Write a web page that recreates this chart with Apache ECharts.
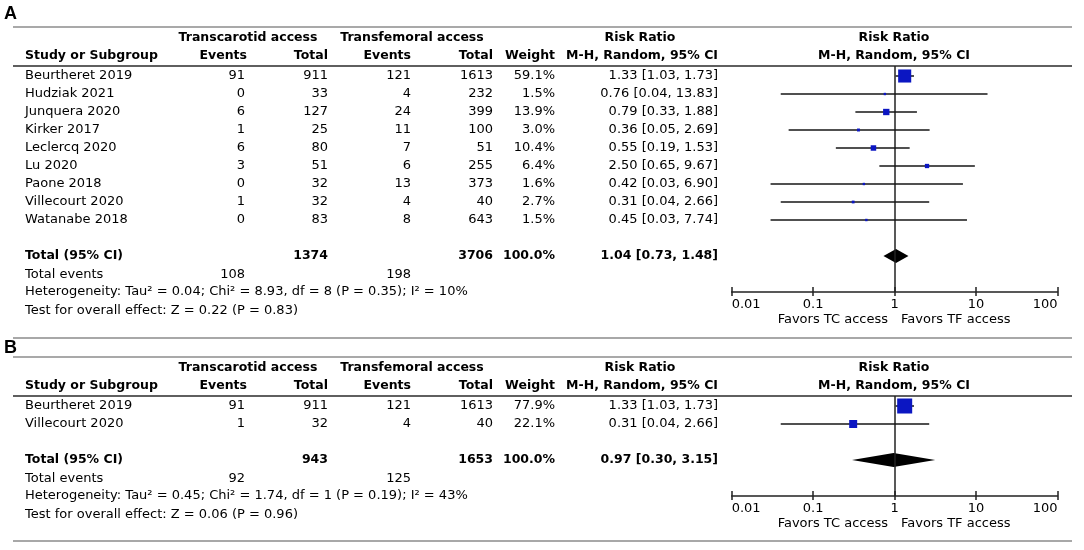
<!DOCTYPE html>
<html>
<head>
<meta charset="utf-8">
<script src="https://cdn.jsdelivr.net/npm/echarts@6/dist/echarts.min.js"></script>
<style>
html,body{margin:0;padding:0;background:#fff;}
#chart{width:1084px;height:550px;}
</style>
</head>
<body>
<div id="chart"></div>
<script>
// ---------------- DATA ----------------
const panelLabels = ['A', 'B'];
const groupHeaders = ['Transcarotid access', 'Transfemoral access', 'Risk Ratio', 'Risk Ratio'];
const colHeaders = ['Study or Subgroup', 'Events', 'Total', 'Events', 'Total', 'Weight', 'M-H, Random, 95% CI', 'M-H, Random, 95% CI'];
const tickLabels = ['0.01', '0.1', '1', '10', '100'];
const favorsLabels = ['Favors TC access', 'Favors TF access'];

// Panel A
const studiesA = ['Beurtheret 2019', 'Hudziak 2021', 'Junquera 2020', 'Kirker 2017', 'Leclercq 2020', 'Lu 2020', 'Paone 2018', 'Villecourt 2020', 'Watanabe 2018'];
const tcEventsA = [91, 0, 6, 1, 6, 3, 0, 1, 0];
const tcTotalA = [911, 33, 127, 25, 80, 51, 32, 32, 83];
const tfEventsA = [121, 4, 24, 11, 7, 6, 13, 4, 8];
const tfTotalA = [1613, 232, 399, 100, 51, 255, 373, 40, 643];
const weightA = [59.1, 1.5, 13.9, 3.0, 10.4, 6.4, 1.6, 2.7, 1.5];
const rrA = [1.33, 0.76, 0.79, 0.36, 0.55, 2.50, 0.42, 0.31, 0.45];
const loA = [1.03, 0.04, 0.33, 0.05, 0.19, 0.65, 0.03, 0.04, 0.03];
const hiA = [1.73, 13.83, 1.88, 2.69, 1.53, 9.67, 6.90, 2.66, 7.74];
const totalsA = [1374, 3706];          // TC total, TF total
const totalEventsA = [108, 198];
const pooledA = [1.04, 0.73, 1.48];    // RR, lower, upper
const hetA = 'Heterogeneity: Tau\u00b2 = 0.04; Chi\u00b2 = 8.93, df = 8 (P = 0.35); I\u00b2 = 10%';
const overallA = 'Test for overall effect: Z = 0.22 (P = 0.83)';

// Panel B
const studiesB = ['Beurtheret 2019', 'Villecourt 2020'];
const tcEventsB = [91, 1];
const tcTotalB = [911, 32];
const tfEventsB = [121, 4];
const tfTotalB = [1613, 40];
const weightB = [77.9, 22.1];
const rrB = [1.33, 0.31];
const loB = [1.03, 0.04];
const hiB = [1.73, 2.66];
const totalsB = [943, 1653];
const totalEventsB = [92, 125];
const pooledB = [0.97, 0.30, 3.15];
const hetB = 'Heterogeneity: Tau\u00b2 = 0.45; Chi\u00b2 = 1.74, df = 1 (P = 0.19); I\u00b2 = 43%';
const overallB = 'Test for overall effect: Z = 0.06 (P = 0.96)';

// ---------------- LAYOUT ----------------
const FONT = 'DejaVu Sans';
const FS = 13;
const ROW = 18;
const LINE_L = 13, LINE_R = 1072;
const PLOT_L = 731.7, PLOT_R = 1057.5;
const X = { study: 25, tcEv: 245, tcTot: 328, tfEv: 411, tfTot: 493, wt: 555, rr: 718, tcGroup: 248, tfGroup: 412, rrHead: 640, plot: 894 };

const graphics = [];
const grids = [], xAxes = [], yAxes = [], series = [];

function txt(text, x, y, align, bold, size) {
  graphics.push({
    type: 'text', silent: true, z: 10,
    style: {
      text: String(text), x: x, y: y,
      align: align || 'left', verticalAlign: 'middle',
      textAlign: align || 'left', textVerticalAlign: 'middle',
      fontFamily: FONT, fontSize: size || FS, fontWeight: bold ? 'bold' : 'normal', fill: '#000'
    }
  });
}
function hline(y, color, w) {
  graphics.push({ type: 'line', silent: true, shape: { x1: LINE_L, y1: y, x2: LINE_R, y2: y }, style: { stroke: color, lineWidth: w } });
}
const fmt2 = v => v.toFixed(2);
const ciText = (r, l, h) => fmt2(r) + ' [' + fmt2(l) + ', ' + fmt2(h) + ']';

function buildPanel(T, label, labelY, studies, tcEv, tcTot, tfEv, tfTot, wt, rr, lo, hi, totals, totEv, pooled, het, overall) {
  const n = studies.length;
  const under = T + 39;
  const first = under + 10;
  const rowY = i => first + ROW * i;
  const totalY = rowY(n + 1);
  const axisY = rowY(n + 3);

  graphics.push({ type: 'text', silent: true, style: { text: label, x: 4, y: labelY, align: 'left', verticalAlign: 'middle', textAlign: 'left', textVerticalAlign: 'middle', fontFamily: 'Liberation Sans', fontSize: 18, fontWeight: 'bold', fill: '#000' } });
  hline(T, '#8c8c8c', 1.5);
  hline(under, '#2a2a2a', 1.5);

  const h1 = T + 11, h2 = T + 29;
  txt(groupHeaders[0], X.tcGroup, h1, 'center', true, 12.5);
  txt(groupHeaders[1], X.tfGroup, h1, 'center', true, 12.5);
  txt(groupHeaders[2], X.rrHead, h1, 'center', true, 12.5);
  txt(groupHeaders[3], X.plot, h1, 'center', true, 12.5);
  txt(colHeaders[0], X.study, h2, 'left', true, 12.5);
  txt(colHeaders[1], X.tcEv + 2, h2, 'right', true, 12.5);
  txt(colHeaders[2], X.tcTot, h2, 'right', true, 12.5);
  txt(colHeaders[3], X.tfEv, h2, 'right', true, 12.5);
  txt(colHeaders[4], X.tfTot, h2, 'right', true, 12.5);
  txt(colHeaders[5], X.wt, h2, 'right', true, 12.5);
  txt(colHeaders[6], X.rr, h2, 'right', true, 12.5);
  txt(colHeaders[7], X.plot, h2, 'center', true, 12.5);

  for (let i = 0; i < n; i++) {
    const y = rowY(i);
    txt(studies[i], X.study, y, 'left');
    txt(tcEv[i], X.tcEv, y, 'right');
    txt(tcTot[i], X.tcTot, y, 'right');
    txt(tfEv[i], X.tfEv, y, 'right');
    txt(tfTot[i], X.tfTot, y, 'right');
    txt(wt[i].toFixed(1) + '%', X.wt, y, 'right');
    txt(ciText(rr[i], lo[i], hi[i]), X.rr, y, 'right');
  }
  txt('Total (95% CI)', X.study, totalY, 'left', true, 12.5);
  txt(totals[0], X.tcTot, totalY, 'right', true, 12.5);
  txt(totals[1], X.tfTot, totalY, 'right', true, 12.5);
  txt('100.0%', X.wt, totalY, 'right', true, 12.5);
  txt(ciText(pooled[0], pooled[1], pooled[2]), X.rr, totalY, 'right', true, 12.5);
  const evY = totalY + 19;
  txt('Total events', X.study, evY, 'left');
  txt(totEv[0], X.tcEv, evY, 'right');
  txt(totEv[1], X.tfEv, evY, 'right');
  txt(het, X.study, totalY + 36, 'left');
  txt(overall, X.study, totalY + 55, 'left');
  txt(favorsLabels[0], 888, axisY + 28, 'right');
  txt(favorsLabels[1], 901, axisY + 28, 'left');

  const yMin = -(first - under) / ROW;
  const yMax = n + 3;
  const gridBox = { left: PLOT_L, width: PLOT_R - PLOT_L, top: under, height: axisY - under, containLabel: false };
  const common = { type: 'log', logBase: 10, min: 0.01, max: 100, splitLine: { show: false }, splitNumber: 4, position: 'bottom' };

  // main grid: axis line, inward ticks, labels, marks
  grids.push(Object.assign({}, gridBox));
  const g = grids.length - 1;
  xAxes.push(Object.assign({}, common, {
    gridIndex: g,
    axisLine: { show: true, onZero: false, lineStyle: { color: '#222', width: 1.5 } },
    axisTick: { show: true, inside: true, length: 5, lineStyle: { color: '#222', width: 1.5 } },
    axisLabel: {
      show: true, margin: 6, color: '#000', fontFamily: FONT, fontSize: FS,
      alignMinLabel: 'left', alignMaxLabel: 'right',
      formatter: v => tickLabels[Math.round(Math.log10(v)) + 2]
    }
  }));
  yAxes.push({ type: 'value', gridIndex: g, inverse: true, min: yMin, max: yMax, show: false });
  const xi = xAxes.length - 1, yi = yAxes.length - 1;

  // overlay grid with the same box: outward part of the ticks
  grids.push(Object.assign({}, gridBox));
  const g2 = grids.length - 1;
  xAxes.push(Object.assign({}, common, {
    gridIndex: g2,
    axisLine: { show: false, onZero: false },
    axisTick: { show: true, inside: false, length: 4, lineStyle: { color: '#222', width: 1.5 } },
    axisLabel: { show: false }
  }));
  yAxes.push({ type: 'value', gridIndex: g2, inverse: true, min: yMin, max: yMax, show: false });

  const studyData = rr.map((r, i) => [r, i, lo[i], hi[i], wt[i]]);
  series.push({
    type: 'custom', xAxisIndex: xi, yAxisIndex: yi, z: 5, silent: true,
    encode: { x: 0, y: 1 },
    data: studyData,
    renderItem: function (params, api) {
      const y = api.value(1);
      const a = api.coord([api.value(2), y]);
      const b = api.coord([api.value(3), y]);
      const c = api.coord([api.value(0), y]);
      const s = Math.max(2.4, 1.7 * Math.sqrt(api.value(4)));
      return {
        type: 'group', children: [
          { type: 'line', shape: { x1: a[0], y1: a[1], x2: b[0], y2: b[1] }, style: { stroke: '#161616', lineWidth: 1.5 } },
          { type: 'rect', shape: { x: c[0] - s / 2, y: c[1] - s / 2, width: s, height: s }, style: { fill: '#0b16c2' } }
        ]
      };
    }
  });
  series.push({
    type: 'custom', xAxisIndex: xi, yAxisIndex: yi, z: 4, silent: true,
    encode: { x: 0, y: 1 },
    data: [[pooled[0], n + 1, pooled[1], pooled[2]]],
    renderItem: function (params, api) {
      const y = api.value(1);
      const a = api.coord([api.value(2), y]);
      const b = api.coord([api.value(3), y]);
      const c = api.coord([api.value(0), y]);
      const hh = 7;
      return {
        type: 'polygon',
        shape: { points: [[a[0], c[1]], [c[0], c[1] - hh], [b[0], c[1]], [c[0], c[1] + hh]] },
        style: { fill: '#000' }
      };
    },
    markLine: {
      silent: true, symbol: ['none', 'none'], label: { show: false },
      lineStyle: { color: '#222', width: 1.5, type: 'solid' },
      data: [{ xAxis: 1 }]
    }
  });
}

buildPanel(27, panelLabels[0], 14, studiesA, tcEventsA, tcTotalA, tfEventsA, tfTotalA, weightA, rrA, loA, hiA, totalsA, totalEventsA, pooledA, hetA, overallA);
hline(338, '#a8a8a8', 2);
buildPanel(357, panelLabels[1], 348, studiesB, tcEventsB, tcTotalB, tfEventsB, tfTotalB, weightB, rrB, loB, hiB, totalsB, totalEventsB, pooledB, hetB, overallB);
hline(541, '#a8a8a8', 2);

const chart = echarts.init(document.getElementById('chart'), null, { renderer: 'canvas' });
chart.setOption({
  animation: false,
  backgroundColor: '#fff',
  grid: grids,
  xAxis: xAxes,
  yAxis: yAxes,
  series: series,
  graphic: { elements: graphics }
});
</script>
</body>
</html>
